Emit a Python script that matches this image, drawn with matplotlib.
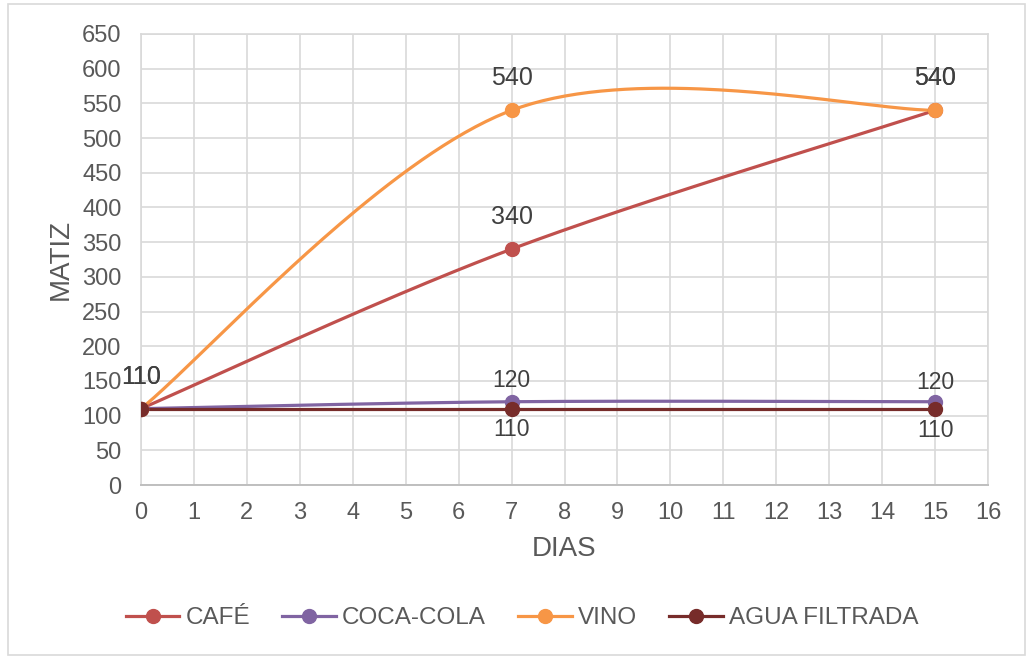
import numpy as np
import matplotlib
matplotlib.use("Agg")
import matplotlib.pyplot as plt
from matplotlib.patches import Rectangle

# ---- data -------------------------------------------------------------
dias = [0, 7, 15]
cafe = [110, 340, 540]
coca_cola = [110, 120, 120]
vino = [110, 540, 540]
agua_filtrada = [110, 110, 110]
series_names = ["CAFÉ", "COCA-COLA", "VINO", "AGUA FILTRADA"]
x_ticks = list(range(0, 17))
y_ticks = list(range(0, 651, 50))

# ---- styling ----------------------------------------------------------
plt.rcParams["font.family"] = ["Liberation Sans", "DejaVu Sans"]
colors = ["#C0504D", "#8064A2", "#F79646", "#772C2A"]
# data-label offsets (points) from each marker centre; positive = above,
# None = label hidden (it would sit under an identical one)
label_offsets = [
    [23, 23, 23],
    [None, 15.5, 13.5],
    [23, 23, 23],
    [None, -14.8, -16],
]
label_sizes = [18, 16.5, 18, 16.5]
tick_color = "#595959"
label_color = "#404040"
grid_color = "#D9D9D9"


def smooth_curve(xs, ys, n=80):
    """Cubic Bezier smoothing through every point (spreadsheet-style)."""
    pts = np.column_stack([xs, ys]).astype(float)
    m = len(pts)
    out = [pts[:1]]
    t = np.linspace(0, 1, n)[1:, None]
    for i in range(m - 1):
        p0 = pts[max(i - 1, 0)]
        p1 = pts[i]
        p2 = pts[i + 1]
        p3 = pts[min(i + 2, m - 1)]
        c1 = p1 + (p2 - p0) / 6.0
        c2 = p2 - (p3 - p1) / 6.0
        seg = ((1 - t) ** 3) * p1 + 3 * ((1 - t) ** 2) * t * c1 \
            + 3 * (1 - t) * (t ** 2) * c2 + (t ** 3) * p2
        out.append(seg)
    curve = np.vstack(out)
    return curve[:, 0], curve[:, 1]


fig = plt.figure(figsize=(10.29, 6.57), dpi=100)
fig.patch.set_facecolor("white")
fig.patches.append(Rectangle((8 / 1029, 2 / 657), 1017 / 1029, 651 / 657,
                             transform=fig.transFigure, fill=False,
                             edgecolor="#D9D9D9", linewidth=1.2))

ax = fig.add_axes([141 / 1029, 1 - 485 / 657, 847 / 1029, 451 / 657])

all_series = [cafe, coca_cola, vino, agua_filtrada]
for name, vals, col, offs, fs in zip(series_names, all_series, colors,
                                     label_offsets, label_sizes):
    sx, sy = smooth_curve(dias, vals)
    ax.plot(sx, sy, color=col, lw=2.3, solid_capstyle="round", zorder=3)
    ax.plot(dias, vals, "o", color=col, ms=10, zorder=4)
    # legend proxy
    ax.plot([], [], color=col, lw=2.3, marker="o", ms=10, label=name)
    for xv, yv, off in zip(dias, vals, offs):
        if off is None:
            continue
        ax.annotate(str(yv), (xv, yv), xytext=(0, off), textcoords="offset points",
                    ha="center", va="center", fontsize=fs, color=label_color,
                    zorder=5)

ax.set_xlim(0, 16)
ax.set_ylim(0, 650)
ax.set_xticks(x_ticks)
ax.set_yticks(y_ticks)
ax.grid(True, color=grid_color, linewidth=1.2, zorder=0)
ax.set_axisbelow(True)
ax.tick_params(axis="both", length=0, labelsize=17, labelcolor=tick_color)
ax.tick_params(axis="y", pad=14)
ax.tick_params(axis="x", pad=12)
for side in ["top", "right", "left"]:
    ax.spines[side].set_color(grid_color)
    ax.spines[side].set_linewidth(1.2)
ax.spines["bottom"].set_color("#BFBFBF")
ax.spines["bottom"].set_linewidth(1.4)

ax.set_xlabel("DIAS", fontsize=20, color=tick_color, labelpad=9)
ax.set_ylabel("MATIZ", fontsize=20, color=tick_color, labelpad=6)

handles, labels = ax.get_legend_handles_labels()
fig.legend(handles, labels, loc="center", bbox_to_anchor=(522 / 1029, 1 - 618 / 657),
           ncol=4, frameon=False, fontsize=17.5, labelcolor=tick_color,
           handlelength=2.2, handletextpad=0.25, columnspacing=1.33)

fig.savefig("out.png", dpi=100)
